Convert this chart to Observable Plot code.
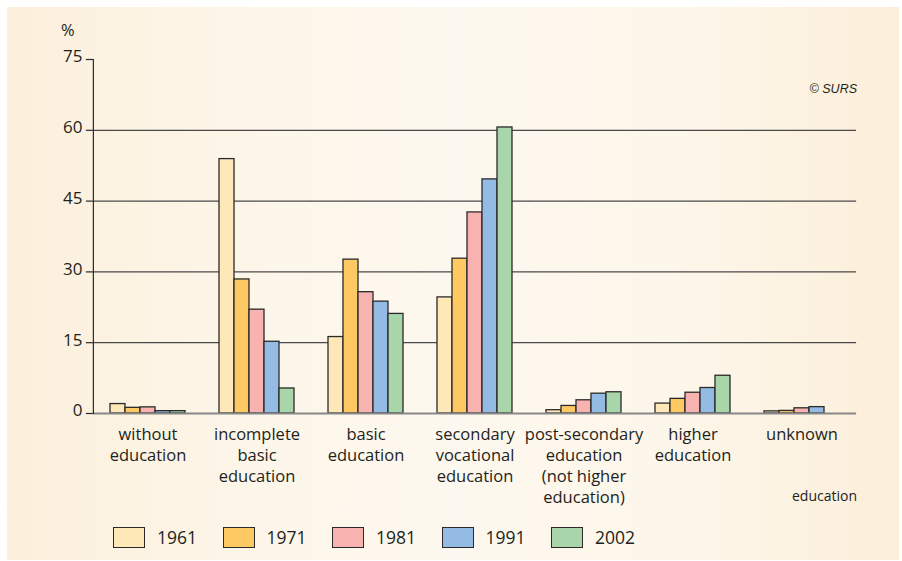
<!DOCTYPE html>
<html><head><meta charset="utf-8">
<script src="https://cdn.jsdelivr.net/npm/d3@7"></script>
<script src="https://cdn.jsdelivr.net/npm/@observablehq/plot@0.6"></script>
<style>
body{margin:0;background:#fff;font-family:"Open Sans",sans-serif;color:#231f20;}
#panel{position:absolute;left:7px;top:7px;width:892px;height:553px;background:linear-gradient(to right,#fcf0dc 0%,#fdf6ea 30%,#fdf8ef 50%,#fdf6ea 75%,#fcefda 100%);}
#chart{position:absolute;left:0;top:0;}
#legend{position:absolute;left:113px;top:526px;display:flex;}
.item{display:flex;align-items:center;width:109.5px;height:22px;}
.sw{width:30px;height:19px;border:1.5px solid #2a2a2a;box-sizing:content-box;}
.lb{margin-left:12px;font-size:17.5px;line-height:22px;color:#231f20;}
.note{position:absolute;white-space:nowrap;color:#231f20;}
#pct{left:61px;top:19px;font-size:16.5px;line-height:22px;}
#surs{right:45px;top:80px;font-size:12.5px;line-height:18px;font-style:italic;font-family:"Liberation Sans",sans-serif;}
#edu{right:45px;top:486px;font-size:14px;line-height:20px;}
</style>
</head><body>
<div id="panel"></div>
<div id="chart"></div>
<div id="legend"></div>
<div class="note" id="pct">%</div>
<div class="note" id="surs">© SURS</div>
<div class="note" id="edu">education</div>
<script>
const categories = ["without education", "incomplete basic education", "basic education", "secondary vocational education", "post-secondary education (not higher education)", "higher education", "unknown"];
const categoryLabels = ["without\neducation", "incomplete\nbasic\neducation", "basic\neducation", "secondary\nvocational\neducation", "post-secondary\neducation\n(not higher\neducation)", "higher\neducation", "unknown"];
const years = ["1961", "1971", "1981", "1991", "2002"];
const colors = ["#fee8b7", "#fec962", "#f8b3b1", "#93bbe4", "#a8d6aa"];
const v1961 = [2.0, 53.9, 16.2, 24.6, 0.7, 2.1, 0.45];
const v1971 = [1.2, 28.4, 32.6, 32.8, 1.6, 3.1, 0.55];
const v1981 = [1.3, 22.0, 25.7, 42.6, 2.8, 4.4, 1.1];
const v1991 = [0.5, 15.2, 23.7, 49.6, 4.2, 5.4, 1.35];
const v2002 = [0.5, 5.3, 21.1, 60.6, 4.5, 8.0, null];
const yTicks = [0, 15, 30, 45, 60, 75];
const gridTicks = [15, 30, 45, 60];

const series = [v1961, v1971, v1981, v1991, v2002];
const data = [];
categories.forEach((c, i) => years.forEach((y, j) => {
  const v = series[j][i];
  if (v != null) data.push({category: c, year: y, value: v});
}));
const labelOf = new Map(categories.map((c, i) => [c, categoryLabels[i]]));

const W = 902, H = 515, mL = 92, mR = 45, mT = 59, mB = 102;
const pIn = 0.295, pOut = 0.1475;
const step = (W - mL - mR) / (categories.length - pIn + 2 * pOut);
const off = step * pOut;
const ink = "#231f20";

const chart = Plot.plot({
  width: W, height: H,
  marginLeft: mL, marginRight: mR, marginTop: mT, marginBottom: mB,
  style: {fontFamily: "Open Sans", fontSize: "16px", color: ink, background: "transparent", overflow: "visible"},
  fx: {domain: categories, paddingInner: pIn, paddingOuter: pOut, label: null},
  x: {domain: years, padding: 0, axis: null},
  y: {domain: [0, 75], axis: null},
  color: {domain: years, range: colors},
  marks: [
    Plot.ruleY(gridTicks, {insetLeft: -off, insetRight: -off, stroke: "#4a4a4a", strokeWidth: 1.2}),
    Plot.barY(data, {fx: "category", x: "year", y: "value", fill: "year", stroke: "#2a2a2a", strokeWidth: 1.3}),
    Plot.ruleY([0], {insetLeft: -off, insetRight: -off, stroke: "#888", strokeWidth: 2}),
    Plot.frame({anchor: "left", facet: "super", dx: -off, stroke: "#2a2a2a", strokeWidth: 1.2}),
    Plot.axisY({ticks: yTicks, tickSize: 7, tickFormat: () => "", label: null, dx: -off, stroke: "#2a2a2a", strokeWidth: 1.2}),
    Plot.axisY({ticks: yTicks, tickSize: 0, tickPadding: 11, label: null, dx: -off, dy: -2.5, fontSize: 17, fill: ink}),
    Plot.axisFx({anchor: "bottom", tickSize: 0, tickPadding: 11, lineAnchor: "top", lineHeight: 1.28, fontSize: 16.5, fill: ink, tickFormat: d => labelOf.get(d), label: null})
  ]
});
document.getElementById("chart").appendChild(chart);

const color = chart.scale("color");
const legend = document.getElementById("legend");
years.forEach(y => {
  const item = document.createElement("div");
  item.className = "item";
  const sw = document.createElement("div");
  sw.className = "sw";
  sw.style.background = color.apply(y);
  const lb = document.createElement("span");
  lb.className = "lb";
  lb.textContent = y;
  item.appendChild(sw); item.appendChild(lb);
  legend.appendChild(item);
});
</script>
</body></html>
